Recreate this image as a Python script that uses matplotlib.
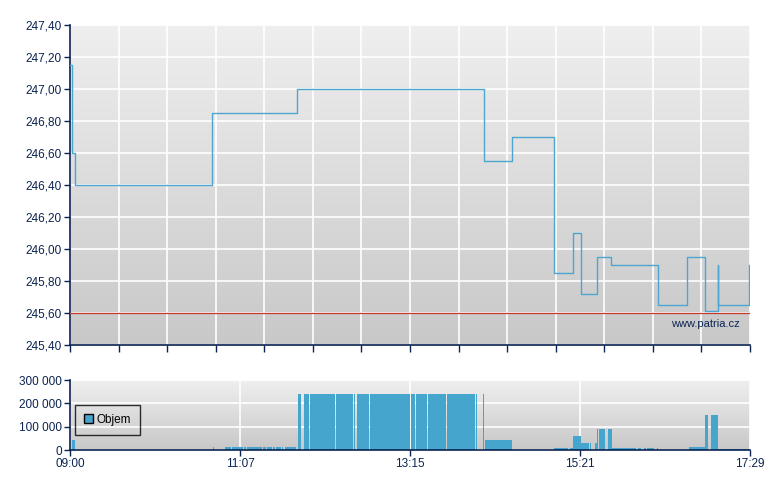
import numpy as np
import matplotlib
matplotlib.use("Agg")
import matplotlib.pyplot as plt
from matplotlib.patches import Patch
from matplotlib.colors import LinearSegmentedColormap

plt.rcParams['font.family'] = ['Liberation Sans', 'DejaVu Sans']

# ---- data (minutes after 09:00) ----
price_times = [0, 1.5, 3.7, 106.3, 169.9, 309.9, 330.8, 362.3, 376.5, 382.5,
               394.5, 405.0, 440.1, 461.8, 475.3, 485.0, 485.4, 508.4, 509]
price_values = [247.15, 246.60, 246.40, 246.85, 247.00, 246.55, 246.70, 245.85,
                246.10, 245.72, 245.95, 245.90, 245.65, 245.95, 245.61, 245.90,
                245.65, 245.90, 245.90]
ref_price = 245.60

vol_start = [1.5, 107.0, 116.0, 121.3, 130.2, 132.5, 144.5, 147.5, 152.0, 154.2,
             158.7, 160.9,
             170.7, 175.2, 179.6, 199.1, 212.6, 214.8, 224.6, 255.2, 259.0,
             268.0, 282.2, 303.9, 309.1,
             310.6, 362.3, 374.3, 376.5, 382.5, 389.2, 393.0, 394.5, 396.0,
             402.7, 405.7, 425.2, 429.6, 431.9, 439.4, 463.3, 475.3, 479.8, 485.0]
vol_end = [3.7, 107.8, 120.5, 129.5, 131.7, 143.7, 146.7, 151.2, 153.4, 157.9,
           159.4, 169.2,
           172.9, 178.9, 198.4, 211.8, 213.3, 223.8, 254.3, 258.2, 267.2,
           281.4, 303.2, 304.6, 309.9,
           330.8, 372.8, 376.5, 382.5, 388.5, 390.0, 394.5, 395.2, 400.5,
           405.7, 423.7, 427.4, 431.1, 437.1, 440.1, 475.3, 477.6, 485.0, 508.2]
vol_values = [45000, 14000, 14000, 14000, 14000, 14000, 14000, 14000, 14000, 14000,
              14000, 14000,
              240000, 240000, 240000, 240000, 240000, 240000, 240000, 240000, 240000,
              240000, 240000, 240000, 240000,
              43000, 10000, 10000, 58000, 32000, 32000, 32000, 92000, 92000,
              92000, 10000, 10000, 10000, 10000, 10000, 15000, 148000, 148000, 3000]

x_labels = ["09:00", "11:07", "13:15", "15:21", "17:29"]
price_ticks = [245.40, 245.60, 245.80, 246.00, 246.20, 246.40, 246.60, 246.80,
               247.00, 247.20, 247.40]
vol_ticks = [0, 100000, 200000, 300000]

T_END = 509
NAVY = '#0b2352'
BLUE_LINE = '#4da6cf'
BLUE_BAR = '#46a5cd'

fig = plt.figure(figsize=(7.8, 4.9), dpi=100)
fig.patch.set_facecolor('white')

ax1 = fig.add_axes([70/780, 1-345/490, 680/780, 320/490])
ax2 = fig.add_axes([70/780, 1-450/490, 680/780, 70/490])

grad = np.linspace(0, 1, 256).reshape(-1, 1)
gcmap = LinearSegmentedColormap.from_list('g', ['#efefef', '#c8c8c8'])

for ax in (ax1, ax2):
    ax.imshow(grad, cmap=gcmap, aspect='auto', extent=[0, 1, 0, 1],
              origin='upper', transform=ax.transAxes, zorder=0,
              interpolation='bilinear')
    for s in ('top', 'right'):
        ax.spines[s].set_visible(False)
    for s in ('left', 'bottom'):
        ax.spines[s].set_color(NAVY)
        ax.spines[s].set_linewidth(1.2)
    ax.tick_params(colors=NAVY, labelcolor=NAVY, labelsize=8.5, length=4,
                   width=1, direction='out', pad=2)
    ax.set_xlim(0, T_END)
    ax.set_axisbelow(True)

# --- price chart ---
ax1.set_ylim(price_ticks[0], price_ticks[-1])
ax1.set_yticks(price_ticks)
ax1.set_yticklabels([f"{v:.2f}".replace('.', ',') for v in price_ticks])
xt = np.linspace(0, T_END, 15)
ax1.set_xticks(xt)
ax1.set_xticklabels([])
ax1.tick_params(axis='x', length=5)
ax1.grid(True, color='white', linewidth=1.2)
ax1.axhline(ref_price, color='#c43a2f', linewidth=0.9, zorder=3)
ax1.plot(price_times, price_values, drawstyle='steps-post', color=BLUE_LINE,
         linewidth=1.0, zorder=4)
ax1.text(0.985, 0.065, 'www.patria.cz', transform=ax1.transAxes, ha='right',
         va='center', color=NAVY, fontsize=8, zorder=5)

# --- volume chart ---
ax2.set_ylim(0, 300000)
ax2.set_yticks(vol_ticks)
ax2.set_yticklabels([f"{v:,}".replace(',', ' ') for v in vol_ticks])
ax2.set_xticks(np.linspace(0, T_END, 5))
ax2.set_xticklabels(x_labels)
ax2.grid(True, color='white', linewidth=1.2)
widths = [e - s for s, e in zip(vol_start, vol_end)]
ax2.bar(vol_start, vol_values, width=widths, align='edge', color=BLUE_BAR,
        linewidth=0, zorder=2)
leg = ax2.legend(handles=[Patch(facecolor=BLUE_BAR, edgecolor='black', linewidth=1,
                                label='Objem')],
                 loc='upper left', bbox_to_anchor=(0.0074, 0.645), frameon=True,
                 fancybox=False, fontsize=8.5, handlelength=0.8, handleheight=0.8,
                 handletextpad=0.3, borderpad=0.75, borderaxespad=0)
leg.get_frame().set_edgecolor('black')
leg.get_frame().set_facecolor('none')
leg.get_frame().set_linewidth(1)

fig.savefig('out.png', dpi=100)
